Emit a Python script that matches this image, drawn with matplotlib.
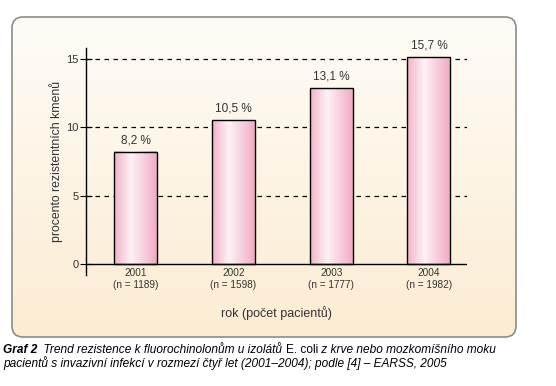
import numpy as np
import matplotlib
matplotlib.use('Agg')
import matplotlib.pyplot as plt
from matplotlib.patches import FancyBboxPatch
from matplotlib.colors import LinearSegmentedColormap
from matplotlib.transforms import IdentityTransform

years = ['2001', '2002', '2003', '2004']
patients = [1189, 1598, 1777, 1982]
# bar heights as drawn in the picture (the bars are not drawn to scale with their labels)
heights = [8.2, 10.5, 12.85, 15.1]
value_labels = ['8,2 %', '10,5 %', '13,1 %', '15,7 %']
yticks = [0, 5, 10, 15]

plt.rcParams['font.family'] = ['Liberation Sans', 'DejaVu Sans']
W, H = 556, 386
fig = plt.figure(figsize=(W / 100, H / 100), dpi=100)

# rounded cream panel behind the chart
bg = fig.add_axes([12 / W, 49 / H, 504 / W, 320 / H])
bg.set_axis_off()
grad = np.linspace(0, 1, 256).reshape(-1, 1)
bg_cmap = LinearSegmentedColormap.from_list('bg', ['#fefcf7', '#fcecd2'])
im = bg.imshow(grad, cmap=bg_cmap, aspect='auto', extent=[0, 1, 0, 1], origin='upper')
panel = FancyBboxPatch((12, 49), 504, 320, boxstyle='round,pad=0,rounding_size=11',
                       transform=IdentityTransform(), facecolor='none',
                       edgecolor='#8c8c8c', lw=1.2, clip_on=False, zorder=5)
bg.add_patch(panel)
im.set_clip_path(panel)

# main plot
ax = fig.add_axes([86 / W, 111 / H, 381 / W, 227 / H])
ax.set_facecolor('none')
x = np.arange(len(years))
bars = ax.bar(x, heights, width=0.44, facecolor='none', edgecolor='black', lw=1, zorder=3)

bar_cmap = LinearSegmentedColormap.from_list(
    'bar', [(0, '#f3b2c8'), (0.4, '#fdf2f6'), (1, '#f1abc4')])
hgrad = np.linspace(0, 1, 256).reshape(1, -1)
for b in bars:
    ax.imshow(hgrad, cmap=bar_cmap, aspect='auto', zorder=2,
              extent=[b.get_x(), b.get_x() + b.get_width(), 0, b.get_height()])

for y in yticks[1:]:
    ax.axhline(y, color='black', lw=0.9, ls=(0, (3.6, 3.6)), zorder=1)
ax.axhline(0, color='black', lw=1, zorder=4)

ax.set_xlim(-0.51, 3.39)
ax.set_ylim(-0.8, 15.78)
for s in ['top', 'right', 'bottom']:
    ax.spines[s].set_visible(False)
ax.spines['left'].set_linewidth(1)

ax.set_yticks(yticks)
ax.tick_params(axis='y', direction='inout', length=9, width=0.8, labelsize=8,
               labelcolor='#333333', pad=1)
ax.set_xticks(x, [f'{y}\n(n = {n})' for y, n in zip(years, patients)])
ax.tick_params(axis='x', length=0, labelsize=7.2, labelcolor='#333333', pad=-5)

ax.bar_label(bars, labels=value_labels, padding=4, fontsize=8.5, color='#333333')
ax.set_ylabel('procento rezistentních kmenů', fontsize=8.8, color='#333333', labelpad=2)
fig.text(276 / W, 1 - 313 / H, 'rok (počet pacientů)', ha='center', va='center',
         fontsize=9, color='#333333')

# caption with mixed styles
fig.canvas.draw()
r = fig.canvas.get_renderer()
pieces = [('Graf 2', dict(fontweight='bold', fontstyle='italic')),
          ('  Trend rezistence k fluorochinolonům u izolátů ', dict(fontstyle='italic')),
          ('E. coli', dict(fontstyle='normal')),
          (' z krve nebo mozkomíšního moku', dict(fontstyle='italic'))]
xpix = 3
for txt, kw in pieces:
    t = fig.text(xpix / W, 1 - 350 / H, txt, ha='left', va='center', fontsize=8.6, **kw)
    xpix = t.get_window_extent(r).x1
fig.text(3 / W, 1 - 363 / H,
         'pacientů s invazivní infekcí v rozmezí čtyř let (2001–2004); podle [4] – EARSS, 2005',
         ha='left', va='center', fontsize=8.6, fontstyle='italic')

fig.savefig('out.png', dpi=100)
